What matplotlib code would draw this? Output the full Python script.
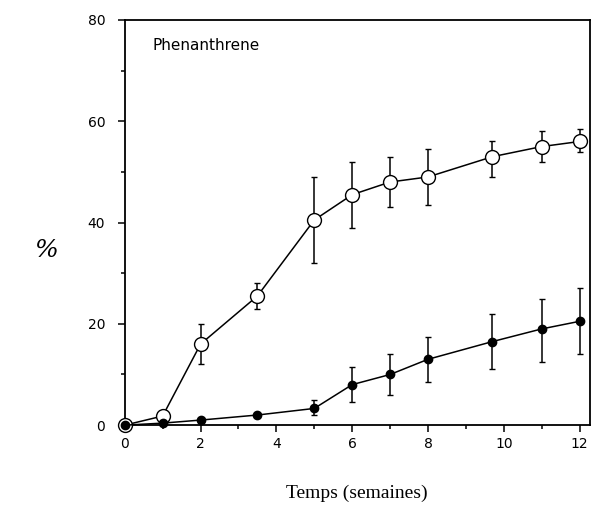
import numpy as np
import matplotlib.pyplot as plt

# semaines
weeks = [0, 1, 2, 3.5, 5, 6, 7, 8, 9.7, 11, 12]

# open circles
open_mean = [0, 1.8, 16, 25.5, 40.5, 45.5, 48, 49, 53, 55, 56]
open_lo = [0, 1.8, 12, 23, 32, 39, 43, 43.5, 49, 52, 54]
open_hi = [0, 1.8, 20, 28, 49, 52, 53, 54.5, 56, 58, 58.5]

# filled circles
fill_mean = [0, 0.4, 1, 2, 3.3, 8, 10, 13, 16.5, 19, 20.5]
fill_lo = [0, 0.4, 1, 2, 2, 4.5, 6, 8.5, 11, 12.5, 14]
fill_hi = [0, 0.4, 1, 2, 5, 11.5, 14, 17.5, 22, 25, 27]

fig = plt.figure(figsize=(5.94, 5.11), dpi=100)
ax = fig.add_axes([0.21, 0.168, 0.783, 0.793])


def err(mean, lo, hi):
    m = np.array(mean)
    return np.vstack([m - np.array(lo), np.array(hi) - m]).clip(min=0)


ax.errorbar(weeks, open_mean, yerr=err(open_mean, open_lo, open_hi),
            fmt='-o', color='black', mfc='white', mec='black', ms=10,
            lw=1.1, elinewidth=1.1, capsize=2.5, clip_on=False, zorder=3)
ax.errorbar(weeks, fill_mean, yerr=err(fill_mean, fill_lo, fill_hi),
            fmt='-o', color='black', mfc='black', ms=6,
            lw=1.1, elinewidth=1.1, capsize=2.5, clip_on=False, zorder=4)

ax.set_xlim(0, 12.27)
ax.set_ylim(0, 80)
ax.set_xticks([0, 2, 4, 6, 8, 10, 12])
ax.set_xticks([1, 3, 5, 7, 9, 11], minor=True)
ax.set_yticks([0, 20, 40, 60, 80])
ax.set_yticks([10, 30, 50, 70], minor=True)
ax.tick_params(which='both', direction='out', width=1.1, labelsize=10)
ax.tick_params(which='major', length=5)
ax.tick_params(which='minor', length=3)
ax.tick_params(axis='y', pad=9)
for s in ax.spines.values():
    s.set_linewidth(1.3)

ax.text(0.06, 0.925, 'Phenanthrene', transform=ax.transAxes, fontsize=11)

fig.text(0.077, 0.51, '%', fontsize=18, family='DejaVu Serif', style='italic',
         ha='center', va='center')
fig.text(0.6, 0.035, 'Temps (semaines)', fontsize=14, family='Liberation Serif',
         ha='center', va='center')

fig.savefig('out.png', dpi=100)
